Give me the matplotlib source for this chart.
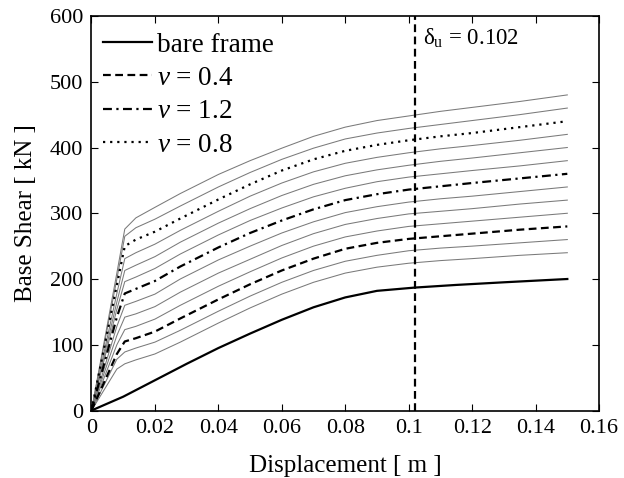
import matplotlib
matplotlib.use("Agg")
import matplotlib.pyplot as plt

plt.rcParams['font.family'] = ['Liberation Serif', 'DejaVu Serif']
plt.rcParams['mathtext.fontset'] = 'custom'
plt.rcParams['mathtext.rm'] = 'Liberation Serif'
plt.rcParams['mathtext.it'] = 'Liberation Serif:italic'

# ---- data ----
disp = [0, 0.008, 0.0105, 0.014, 0.02, 0.028, 0.04, 0.05, 0.06, 0.07,
        0.08, 0.09, 0.10, 0.11, 0.12, 0.135, 0.15]

# thin gray family, bottom to top (kN)
c00 = [0, 63, 71, 77, 86, 104, 133, 156, 177, 195, 209, 218, 224, 228, 231, 236, 240]
c01 = [0, 78, 89, 95, 104, 122, 151, 174, 195, 213, 227, 236, 243, 247, 250, 255, 260]
c02 = [0, 86, 105, 110, 120, 140, 169, 192, 213, 231, 246, 255, 261, 265, 269, 275, 280]   # v = 0.4
c03 = [0, 100, 123, 128, 139, 160, 189, 211, 232, 250, 264, 273, 280, 284, 288, 294, 300]
c04 = [0, 114, 142, 147, 158, 180, 209, 230, 251, 269, 283, 292, 299, 303, 307, 314, 320]
c05 = [0, 128, 160, 166, 177, 200, 229, 250, 270, 287, 301, 310, 317, 322, 326, 333, 340]
c06 = [0, 142, 178, 185, 197, 219, 248, 270, 289, 306, 320, 329, 336, 341, 346, 353, 360]  # v = 1.2
c07 = [0, 154, 196, 203, 216, 238, 267, 289, 308, 325, 338, 348, 355, 360, 365, 372, 380]
c08 = [0, 165, 213, 221, 234, 256, 285, 307, 327, 344, 357, 366, 373, 379, 384, 392, 400]
c09 = [0, 178, 231, 240, 253, 274, 303, 326, 346, 363, 376, 385, 392, 398, 403, 411, 420]
c10 = [0, 191, 250, 260, 272, 292, 321, 344, 365, 382, 395, 404, 411, 417, 422, 431, 440]  # v = 0.8
c11 = [0, 200, 265, 278, 291, 311, 340, 362, 382, 399, 413, 422, 429, 435, 441, 450, 460]
c12 = [0, 209, 276, 293, 309, 330, 359, 380, 399, 417, 431, 441, 448, 455, 461, 470, 480]
family = [c00, c01, c02, c03, c04, c05, c06, c07, c08, c09, c10, c11, c12]
idx_v04, idx_v12, idx_v08 = 2, 6, 10

bare_disp = [0, 0.01, 0.02, 0.03, 0.04, 0.05, 0.06, 0.07, 0.08, 0.09, 0.102, 0.115, 0.13, 0.15]
bare_shear = [0, 21, 46, 71, 95, 117, 138, 157, 172, 182, 187, 191, 195, 200]

delta_u = 0.102

xticks = [0, 0.02, 0.04, 0.06, 0.08, 0.10, 0.12, 0.14, 0.16]
xticklabels = ["0", "0.02", "0.04", "0.06", "0.08", "0.1", "0.12", "0.14", "0.16"]
yticks = [0, 100, 200, 300, 400, 500, 600]

# ---- figure ----
fig = plt.figure(figsize=(6.24, 4.78), dpi=100)
ax = fig.add_axes([0.1466, 0.1412, 0.8134, 0.8253])

for i, ys in enumerate(family):
    if i in (idx_v04, idx_v12, idx_v08):
        continue
    ax.plot(disp, ys, color='#7a7a7a', lw=0.75)

h_bare, = ax.plot(bare_disp, bare_shear, color='black', lw=1.6, label='bare frame')
h04, = ax.plot(disp, family[idx_v04], color='black', lw=1.6, ls=(0, (3.5, 2)), label=r'$v$ = 0.4')
h12, = ax.plot(disp, family[idx_v12], color='black', lw=1.6, ls=(0, (4, 2, 1, 2)), label=r'$v$ = 1.2')
h08, = ax.plot(disp, family[idx_v08], color='black', lw=1.6, ls=(0, (1, 2.2)), label=r'$v$ = 0.8')

ax.axvline(delta_u, color='black', lw=1.6, ls=(0, (3.5, 2)))
ax.text(delta_u + 0.0024, 566, r'δ$_\mathrm{u}$ = 0.102', fontsize=16.5, ha='left', va='center')

ax.set_xlim(0, 0.16)
ax.set_ylim(0, 600)
ax.set_xticks(xticks)
ax.set_xticklabels(xticklabels)
ax.set_yticks(yticks)
ax.tick_params(direction='in', top=True, right=True, length=5, width=0.8, labelsize=16, pad=6)
for s in ax.spines.values():
    s.set_linewidth(1.2)

ax.set_xlabel('Displacement [ m ]', fontsize=18, labelpad=12)
ax.set_ylabel('Base Shear [ kN ]', fontsize=18, labelpad=9)

leg = ax.legend(handles=[h_bare, h04, h12, h08], loc='upper left', frameon=False,
                fontsize=19.5, handlelength=1.8, handletextpad=0.2, labelspacing=0.31,
                borderaxespad=0.0, borderpad=0.0, bbox_to_anchor=(0.0227, 0.958))

fig.savefig('out.png', dpi=100)
